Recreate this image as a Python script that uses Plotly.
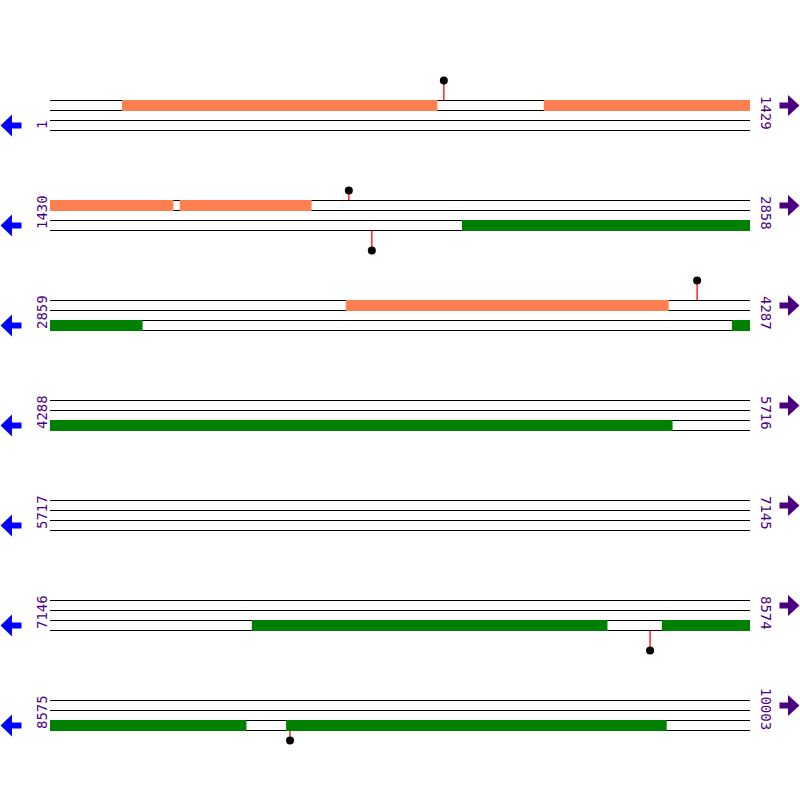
import plotly.graph_objects as go

# sequence layout
seq_len = 10003
row_len = 1429
row_starts = [1, 1430, 2859, 4288, 5717, 7146, 8575]
row_ends = [1429, 2858, 4287, 5716, 7145, 8574, 10003]

# features (bp), forward strand drawn coral, reverse strand drawn green
fwd_starts = [148, 1009, 1695, 3463]
fwd_ends = [791, 1681, 1963, 4121]
rev_starts = [2271, 4251, 7558, 8395, 9057]
rev_ends = [3047, 5558, 8283, 8975, 9833]

# sites (lollipops)
site_pos = [805, 2040, 2087, 4180, 8371, 9065]
site_strand = ['+', '+', '-', '+', '-', '-']
site_height = [2, 1, 2, 2, 2, 1]

fig = go.Figure()
shapes = []
annotations = []

# strand lines for every row
lx, ly = [], []
for r, s in enumerate(row_starts):
    n = row_ends[r] - s + 1
    for off in [1.0, 1.1, 1.2, 1.3]:
        lx += [0, n, None]
        ly += [r + off, r + off, None]
fig.add_trace(go.Scatter(x=lx, y=ly, mode='lines',
                         line=dict(color='black', width=1), hoverinfo='skip'))


def add_block(a, b, top, color):
    # split a feature across rows
    for r, s in enumerate(row_starts):
        e = row_ends[r]
        lo, hi = max(a, s), min(b, e)
        if lo > hi:
            continue
        y0 = r + (0.995 if top else 1.195)
        shapes.append(dict(type='rect', xref='x', yref='y',
                           x0=lo - s, x1=hi - s + 1, y0=y0, y1=y0 + 0.11,
                           fillcolor=color, line=dict(width=0), layer='above'))


for a, b in zip(fwd_starts, fwd_ends):
    add_block(a, b, True, '#FF7F50')
for a, b in zip(rev_starts, rev_ends):
    add_block(a, b, False, '#008000')

# lollipops
sx, sy, dx, dy = [], [], [], []
for p, st, h in zip(site_pos, site_strand, site_height):
    r = (p - 1) // row_len
    x = p - row_starts[r]
    if st == '+':
        y0, y1 = r + 1.0, r + 1.0 - h * 0.1
    else:
        y0, y1 = r + 1.3, r + 1.3 + h * 0.1
    sx += [x, x, None]
    sy += [y0, y1, None]
    dx.append(x)
    dy.append(y1)
fig.add_trace(go.Scatter(x=sx, y=sy, mode='lines',
                         line=dict(color='red', width=1.3), hoverinfo='skip'))
fig.add_trace(go.Scatter(x=dx, y=dy, mode='markers',
                         marker=dict(color='black', size=8), hoverinfo='skip'))

left_arrow = 'M0,0 L11.5,11 L11.5,3 L21,3 L21,-3 L11.5,-3 L11.5,-11 Z'
right_arrow = 'M0,0 L-11.5,10.5 L-11.5,3 L-20,3 L-20,-3 L-11.5,-3 L-11.5,-10.5 Z'

lab_font = dict(family='DejaVu Sans Mono', size=14, color='#4B0082')
for r in range(len(row_starts)):
    annotations.append(dict(x=41.5 / 800, xref='paper', y=r + 1.31, yref='y',
                            text=str(row_starts[r]), textangle=-90,
                            showarrow=False, yanchor='bottom', xanchor='center',
                            font=lab_font))
    annotations.append(dict(x=766.5 / 800, xref='paper', y=r + 1.31, yref='y',
                            text=str(row_ends[r]), textangle=90,
                            showarrow=False, yanchor='bottom', xanchor='center',
                            font=lab_font))
    shapes.append(dict(type='path', xref='paper', yref='y',
                       xsizemode='pixel', ysizemode='pixel',
                       xanchor=0.5 / 800, yanchor=r + 1.25, path=left_arrow,
                       fillcolor='#0000FF', line=dict(width=0)))
    shapes.append(dict(type='path', xref='paper', yref='y',
                       xsizemode='pixel', ysizemode='pixel',
                       xanchor=799.5 / 800, yanchor=r + 1.05, path=right_arrow,
                       fillcolor='#4B0082', line=dict(width=0)))

# x: px 50 -> 0, px 750 -> row_len
bp_per_px = row_len / 700
x0 = -50 * bp_per_px
x1 = 750 * bp_per_px
# y: one row = 100 px, lines sit on pixel centres
y0 = -0.005
y1 = y0 + 8

fig.update_layout(
    width=800, height=800,
    margin=dict(l=0, r=0, t=0, b=0),
    plot_bgcolor='white', paper_bgcolor='white',
    showlegend=False,
    shapes=shapes, annotations=annotations,
)
fig.update_xaxes(range=[x0, x1], visible=False, fixedrange=True)
fig.update_yaxes(range=[y1, y0], visible=False, fixedrange=True)

fig.write_html("out.html", config={'displayModeBar': False},
               post_script="document.body.style.margin='0';")
